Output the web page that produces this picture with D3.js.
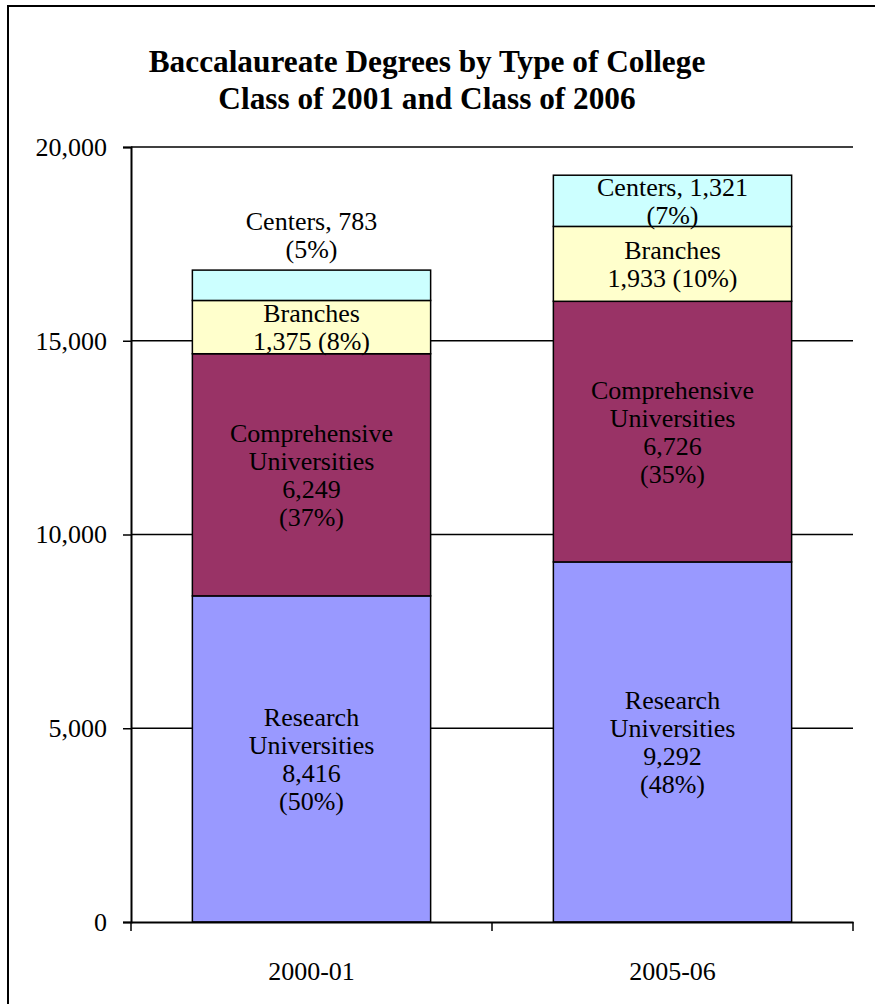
<!DOCTYPE html>
<html>
  <head>
    <title>Baccalaureate Degrees</title>
    <script src="https://cdn.jsdelivr.net/npm/d3@7"></script>
    <style>
      body { margin: 0; background: #fff; }
      text { font-family: "Liberation Serif", "Times New Roman", Times, Tinos, "DejaVu Serif", serif; fill: #000; }
    </style>
  </head>
  <body>
    <svg width="875" height="1004" id="mainsvg"></svg>
    <script>
      // data
      const years = ['2000-01', '2005-06'];
      const seriesNames = ['Research Universities', 'Comprehensive Universities', 'Branches', 'Centers'];
      const research = [8416, 9292];
      const comprehensive = [6249, 6726];
      const branches = [1375, 1933];
      const centers = [783, 1321];
      const yTicks = [0, 5000, 10000, 15000, 20000];
      const colors = ['#9999FF', '#993366', '#FFFFCC', '#CCFFFF'];
      const titleLines = ['Baccalaureate Degrees by Type of College', 'Class of 2001 and Class of 2006'];

      const serif = '"Liberation Serif", "Times New Roman", Times, Tinos, "DejaVu Serif", serif';
      const svg = d3.select('#mainsvg');
      const margin = {top: 147, right: 22, bottom: 82, left: 131};
      const width = +svg.attr('width');
      const height = +svg.attr('height');

      // outer frame (right and bottom edges fall outside the picture)
      svg.append('rect')
        .attr('x', 8).attr('y', 6)
        .attr('width', 900).attr('height', 1100)
        .attr('fill', 'none').attr('stroke', '#000').attr('stroke-width', 2);

      svg.append('text')
        .attr('x', 427).attr('y', 72)
        .attr('text-anchor', 'middle')
        .attr('font-size', 31.3).attr('font-weight', 'bold')
        .selectAll('tspan').data(titleLines).join('tspan')
        .attr('x', 427).attr('dy', (d, i) => i ? 37 : 0)
        .text(d => d);

      const x = d3.scaleBand().domain(years)
        .range([margin.left, width - margin.right])
        .paddingInner(0.34).paddingOuter(0.17);
      const y = d3.scaleLinear().domain([0, 20000]).range([height - margin.bottom, margin.top]);

      const fmt = d3.format(',');
      const pct = d3.format('.0%');

      const rows = years.map((yr, i) => ({
        year: yr, research: research[i], comprehensive: comprehensive[i],
        branches: branches[i], centers: centers[i]
      }));
      const keys = ['research', 'comprehensive', 'branches', 'centers'];
      const stacked = d3.stack().keys(keys)(rows);
      const totals = rows.map(r => keys.reduce((s, k) => s + r[k], 0));

      // label lines per series
      const labelLines = {
        research: (v, p) => ['Research', 'Universities', fmt(v), '(' + pct(p) + ')'],
        comprehensive: (v, p) => ['Comprehensive', 'Universities', fmt(v), '(' + pct(p) + ')'],
        branches: (v, p) => ['Branches', fmt(v) + ' (' + pct(p) + ')'],
        centers: (v, p) => ['Centers, ' + fmt(v), '(' + pct(p) + ')']
      };

      // gridlines
      svg.append('g').selectAll('line').data(yTicks.filter(d => d > 0)).join('line')
        .attr('x1', margin.left).attr('x2', width - margin.right)
        .attr('y1', d => y(d)).attr('y2', d => y(d))
        .attr('stroke', '#000').attr('stroke-width', 1.5);

      // bars
      const layer = svg.append('g').selectAll('g').data(stacked).join('g')
        .attr('fill', (d, i) => colors[i]);
      layer.selectAll('rect').data(d => d).join('rect')
        .attr('x', d => x(d.data.year))
        .attr('width', x.bandwidth())
        .attr('y', d => y(d[1]))
        .attr('height', d => y(d[0]) - y(d[1]))
        .attr('stroke', '#000').attr('stroke-width', 1.5);

      // labels
      const lh = 28;
      stacked.forEach(s => {
        s.forEach((d, i) => {
          const v = d[1] - d[0];
          const lines = labelLines[s.key](v, v / totals[i]);
          const cx = x(d.data.year) + x.bandwidth() / 2;
          const small = s.key === 'centers' && (y(d[0]) - y(d[1])) < 40;
          let y0;
          if (small) {
            y0 = y(d[1]) - 12 - (lines.length - 1) * lh;
          } else {
            const mid = (y(d[0]) + y(d[1])) / 2;
            y0 = mid - (lines.length - 1) * lh / 2 + 9;
          }
          svg.append('text')
            .attr('text-anchor', 'middle').attr('font-size', 26)
            .selectAll('tspan').data(lines).join('tspan')
            .attr('x', cx).attr('y', (t, j) => y0 + j * lh)
            .text(t => t);
        });
      });

      // y axis
      const yAxis = svg.append('g')
        .attr('transform', `translate(${margin.left},0)`)
        .call(d3.axisLeft(y).tickValues(yTicks).tickFormat(fmt).tickSize(8).tickPadding(16));
      yAxis.attr('font-family', serif);
      yAxis.select('.domain').attr('stroke', '#000').attr('stroke-width', 2);
      yAxis.selectAll('.tick line').attr('stroke', '#000').attr('stroke-width', 1.5);
      yAxis.selectAll('.tick text').attr('font-size', 26).attr('fill', '#000');

      // x axis
      const xAxis = svg.append('g')
        .attr('transform', `translate(0,${height - margin.bottom})`)
        .call(d3.axisBottom(x).tickSize(0).tickPadding(40));
      xAxis.attr('font-family', serif);
      xAxis.select('.domain').attr('stroke', '#000').attr('stroke-width', 2);
      xAxis.selectAll('.tick text').attr('font-size', 26).attr('fill', '#000');
      // category boundary ticks
      const bounds = [margin.left, (x(years[0]) + x.bandwidth() + x(years[1])) / 2, width - margin.right];
      svg.append('g').selectAll('line').data(bounds).join('line')
        .attr('x1', d => d).attr('x2', d => d)
        .attr('y1', height - margin.bottom).attr('y2', height - margin.bottom + 9)
        .attr('stroke', '#000').attr('stroke-width', 1.5);
    </script>
  </body>
</html>
